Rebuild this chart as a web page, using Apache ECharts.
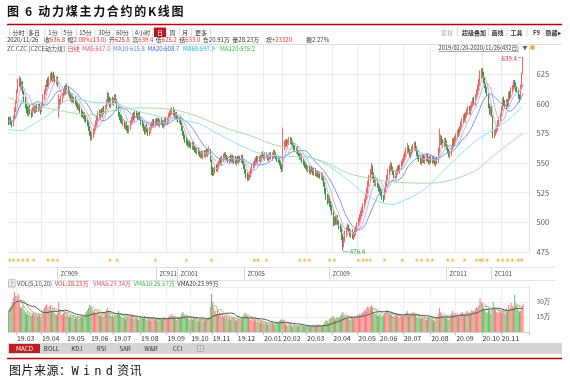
<!DOCTYPE html>
<html><head><meta charset="utf-8">
<script src="https://cdn.jsdelivr.net/npm/echarts@6/dist/echarts.min.js"></script>
<style>
html,body{margin:0;padding:0;background:#fff;}
#c{position:absolute;left:0;top:0;width:570px;height:382px;}
.t{position:absolute;white-space:pre;color:#111;font-family:"Noto Sans CJK SC";}
</style></head><body>
<div id="c"></div>
<div class="t" style="left:7px;top:2px;font-size:12px;font-weight:bold;letter-spacing:1.7px;line-height:18px">图 6 动力煤主力合约的K线图</div>
<div class="t" style="left:9px;top:361px;font-size:12px;letter-spacing:0.5px;line-height:18px">图片来源：<span style="font-family:'DejaVu Sans Mono';letter-spacing:4.2px">Wind</span>资讯</div>
<script>
const months = ['19.02','19.03','19.04','19.05','19.06','19.07','19.08','19.09','19.10','19.11','19.12','20.01','20.02','20.03','20.04','20.05','20.06','20.07','20.08','20.09','20.10','20.11'];
const monthDays = [7,21,21,20,19,23,22,20,18,21,22,16,20,22,21,18,20,23,21,22,16,19];

// daily [open, close, low, high]
const kData = [
[587,585,582,589],[584,587,583,589],[588,584,582,589],[584,582,580,586],[582,588,581,590],[589,595,587,597],[594,601,593,603],
[602,610,600,612],[611,618,609,621],[617,620,614,623],[621,615,613,622],[614,617,611,619],[618,610,608,619],[609,604,601,611],[605,598,596,606],[597,595,592,600],[596,592,590,598],[591,596,589,598],[597,593,591,599],[592,591,588,595],[590,595,589,597],[596,597,593,600],[598,594,592,599],[593,597,592,599],[598,595,593,600],[594,598,593,600],[599,596,594,600],[595,594,591,598],
[594,599,593,601],[600,606,598,608],[605,610,603,612],[611,614,608,616],[613,618,611,620],[619,616,614,622],[615,620,613,623],[621,623,618,626],[624,621,619,627],[620,624,618,626],[625,622,619,627],[621,620,617,624],[619,621,616,623],[622,617,614,623],[594,600,588,608],[599,601,596,604],[602,604,599,607],[603,607,601,609],[608,609,605,612],[610,612,607,615],[613,611,608,616],
[610,614,608,617],[613,610,607,615],[611,607,605,612],[608,604,602,609],[603,606,601,608],[607,603,601,608],[602,604,600,606],[605,601,599,606],[601,600,597,603],[601,597,595,602],[596,598,594,600],[599,594,592,600],[595,592,589,596],[593,590,588,594],[589,591,587,593],[592,588,585,593],[589,586,584,590],[587,584,581,588],[585,579,577,586],[580,576,573,581],
[576,572,569,577],[571,574,569,576],[573,577,571,579],[576,580,574,582],[579,584,577,586],[583,588,581,590],[587,592,585,594],[593,590,588,595],[589,593,587,595],[594,591,589,596],[590,595,588,597],[596,593,591,598],[592,597,590,599],[596,602,595,604],[603,607,600,610],[608,604,601,609],[605,599,597,606],[598,603,596,605],[604,601,599,606],
[600,603,598,605],[604,606,601,608],[607,602,600,608],[603,596,594,604],[597,591,589,598],[592,589,586,593],[588,587,584,591],[588,585,583,590],[583,584,581,587],[585,581,579,586],[580,583,578,585],[584,580,577,585],[581,578,575,582],[577,580,575,582],[579,584,578,586],[585,587,582,589],[586,590,584,592],[591,588,586,593],[587,592,585,594],[593,590,588,594],[590,589,586,592],[588,591,586,593],[592,588,586,593],
[587,585,582,589],[586,582,580,587],[583,579,577,584],[580,577,574,581],[576,580,574,582],[581,578,576,583],[579,576,573,580],[575,578,573,580],[577,581,575,583],[580,583,578,585],[582,585,580,587],[586,583,581,587],[582,585,580,587],[586,584,582,588],[583,586,581,588],[587,583,581,588],[582,585,580,587],[586,584,582,588],[585,582,580,586],[581,584,579,586],[583,586,581,588],[587,585,583,589],
[584,587,582,589],[586,590,584,592],[589,592,587,594],[591,594,589,596],[593,595,591,597],[596,593,590,597],[594,590,588,595],[589,591,587,593],[592,588,586,593],[589,586,584,590],[585,587,583,589],[588,584,582,589],[585,579,577,586],[580,575,573,581],[576,572,570,577],[573,570,567,574],[570,568,565,572],[569,566,564,570],[565,567,563,569],[568,565,563,569],
[566,564,562,568],[563,566,561,568],[567,563,561,568],[564,562,559,565],[563,560,558,564],[559,561,557,563],[562,559,557,563],[560,557,555,561],[556,558,554,560],[559,556,554,560],[555,558,553,560],[559,557,555,561],[556,559,554,561],[560,558,556,562],[557,560,555,562],[559,562,557,564],[561,553,551,562],[552,545,540,553],
[546,542,539,547],[541,544,539,546],[543,546,541,548],[547,545,543,549],[544,548,542,550],[547,550,545,552],[549,552,547,554],[553,551,549,555],[550,554,548,556],[553,556,551,558],[555,557,553,559],[558,555,553,559],[556,554,552,557],[555,552,550,556],[551,554,549,556],[555,553,551,557],[552,555,550,557],[556,552,550,557],[551,554,549,556],[555,551,549,556],[550,553,548,555],
[554,552,550,556],[551,554,549,556],[555,553,551,556],[552,555,550,557],[556,551,549,557],[552,547,545,553],[548,543,541,549],[544,540,537,545],[541,538,535,542],[537,539,535,541],[538,541,536,543],[540,544,538,546],[543,547,541,549],[548,549,545,551],[548,551,546,553],[550,553,548,555],[554,552,550,556],[551,554,549,556],[555,553,551,556],[552,555,550,557],[554,557,552,559],[558,556,554,560],
[557,555,553,558],[554,557,552,559],[558,556,554,559],[555,554,552,557],[553,556,551,558],[555,557,553,559],[558,555,553,559],[554,557,552,559],[556,559,554,561],[560,557,555,561],[558,555,553,559],[556,553,551,557],[554,552,550,555],[553,550,548,554],[551,547,545,552],[548,545,542,549],
[546,564,543,580],[563,566,561,569],[565,568,563,570],[569,566,564,570],[565,568,563,570],[567,570,565,572],[571,569,566,572],[570,567,565,571],[568,565,563,569],[566,563,561,567],[564,561,559,565],[560,562,558,564],[563,559,557,564],[560,557,555,561],[558,555,553,559],[554,556,552,558],[557,552,550,558],[553,550,548,554],[551,548,546,552],[549,547,545,550],
[548,545,543,549],[544,546,542,548],[547,543,541,548],[542,545,540,547],[546,544,542,547],[545,542,540,546],[541,544,539,546],[545,541,539,546],[540,542,538,544],[543,540,538,544],[539,541,537,543],[542,539,537,543],[538,540,536,542],[541,537,535,542],[538,532,530,539],[533,527,524,534],[528,522,519,529],[523,519,515,524],[518,521,516,524],[522,516,513,523],[517,513,510,518],[514,510,506,515],
[509,500,497,510],[499,503,497,505],[504,501,498,506],[500,504,498,506],[505,500,498,506],[501,497,494,502],[498,495,492,499],[496,488,485,497],[489,480,476.4,490],[481,486,479,488],[485,491,483,493],[490,494,488,496],[495,496,492,499],[497,493,491,498],[494,490,488,495],[489,492,487,494],[493,488,486,494],[487,490,485,492],[489,492,487,494],[491,495,489,497],[494,498,492,500],
[499,502,497,504],[503,505,500,507],[504,508,502,510],[507,511,505,513],[510,514,508,516],[513,518,511,520],[517,522,515,524],[521,527,519,529],[526,533,524,535],[532,538,530,540],[537,543,535,545],[542,547,540,550],[546,539,537,548],[540,536,533,542],[537,533,531,538],[532,535,530,537],[536,531,529,537],[532,529,526,533],
[530,527,524,531],[528,524,522,529],[525,522,519,526],[522,520,517,523],[520,526,519,528],[525,532,524,534],[531,538,530,540],[537,543,535,545],[542,546,540,548],[545,548,543,551],[549,545,543,550],[546,542,540,547],[543,539,537,544],[538,540,536,542],[539,543,537,545],[542,546,540,548],[547,544,542,548],[543,547,541,549],[546,550,544,552],[549,552,547,554],
[551,555,549,557],[554,558,552,560],[557,561,555,563],[560,563,558,567],[564,560,558,565],[561,557,555,562],[556,559,554,561],[558,562,556,564],[561,564,559,566],[563,566,561,568],[567,562,560,568],[563,558,556,564],[559,555,553,560],[556,553,551,557],[554,551,549,555],[550,553,548,555],[552,555,550,557],[556,552,550,557],[551,554,549,556],[553,556,551,558],[557,553,551,558],[554,551,549,555],[550,554,548,556],
[555,552,550,556],[551,554,549,556],[555,552,550,556],[553,550,548,554],[549,553,547,555],[554,551,549,555],[551,560,550,563],[559,569,558,579],[568,571,565,574],[572,568,565,573],[569,566,563,570],[565,569,563,571],[570,567,564,571],[568,563,561,569],[564,560,558,565],[561,557,555,562],[556,558,554,560],[557,563,556,565],[562,569,561,571],[570,566,564,571],[565,571,564,573],
[570,573,568,575],[572,576,570,578],[577,575,572,579],[574,579,573,581],[578,583,577,585],[582,586,580,588],[585,589,583,591],[590,587,585,592],[586,591,584,593],[590,594,588,596],[593,596,591,598],[597,593,591,598],[592,597,590,599],[596,600,594,602],[599,603,597,605],[604,601,599,606],[600,606,598,608],[605,610,603,612],[609,614,607,616],[613,618,611,621],[617,625,615,628],[624,628,621,630],
[629,626,622,630],[625,620,617,627],[621,616,613,622],[615,612,609,617],[613,609,606,614],[608,598,596,609],[599,594,591,600],[593,596,590,598],[597,591,589,598],[589,574,571,590],[573,576,571,578],[575,578,573,580],[577,580,575,582],[579,584,577,586],[583,587,581,589],[586,590,584,592],
[591,596,589,598],[595,603,594,605],[604,601,598,606],[602,598,596,603],[597,602,595,604],[603,600,597,604],[599,608,598,610],[609,606,603,611],[605,612,604,614],[611,614,609,616],[613,618,611,620],[619,616,613,620],[617,613,610,618],[614,612,609,615],[611,607,604,612],[606,603.2,601,608],[604,614.2,603,616],[613,623.8,612,626],[625.8,636.8,625.2,639.4]
];

// daily volume, 万手
const volumes = [
20,24,26,30,34,40,36,
33,38,30,25,24,27,22,20,18,21,17,19,16,18,20,17,19,16,18,17,15,
17,22,24,26,28,22,25,27,21,24,20,18,17,19,30,22,18,17,19,20,16,
18,16,15,17,14,16,13,15,14,16,13,15,17,14,16,18,20,22,24,27,
26,23,20,22,19,18,21,17,16,18,15,17,19,22,24,20,18,16,17,
15,17,16,19,21,18,16,15,14,16,13,15,17,14,16,18,15,13,14,16,13,12,14,
13,15,14,16,13,12,15,14,11,13,15,12,14,13,11,12,14,13,12,15,13,12,
14,15,17,16,18,14,15,13,12,14,13,15,18,20,17,16,14,15,13,12,
13,12,14,15,13,12,11,13,12,14,11,13,12,14,13,15,25,38,
30,24,20,18,21,17,19,16,18,15,17,14,16,13,15,12,14,13,15,12,11,
12,13,11,14,15,17,19,18,16,14,13,12,14,11,13,12,10,11,9,10,11,9,
8,9,10,8,7,9,8,10,9,7,8,9,10,11,12,13,
12,9,8,7,6,7,8,6,5,7,6,5,6,7,5,6,7,6,5,6,
6,5,7,6,5,6,7,5,6,8,7,6,5,7,8,10,12,11,9,13,14,15,
16,13,12,14,15,13,16,18,20,17,15,14,16,13,12,14,15,13,16,15,17,
16,18,17,19,20,22,21,24,26,23,25,27,24,20,18,19,17,16,
18,16,15,17,19,21,22,20,18,17,19,16,15,17,18,16,14,15,17,16,
15,17,19,21,18,16,17,18,20,19,17,15,14,16,13,15,14,13,15,12,14,16,15,
13,14,12,11,14,12,18,24,20,17,15,16,14,15,13,12,14,18,21,17,19,
16,18,15,17,19,20,18,16,19,21,20,17,19,22,21,18,23,25,24,27,34,30,
28,24,22,20,19,24,21,18,20,30,25,22,20,19,21,20,
19,23,21,18,24,20,27,23,29,26,24,37,27,25,22,20.5,21,25,28.23
];

// MA60 / MA120: [day index, value]
const ma60Pts = [[0,578.3],[10,577.3],[18,581],[26,586],[35,591.8],[43,598.8],[49,603],[60,603.6],[68,601.6],[77,600.8],[91,599.7],[104,595],[127,589],[144,586.5],[160,583],[171,577],[194,565],[211,558],[227,556],[255,554],[269,547],[284,536],[297,525],[311,517],[322,515],[330,518],[339,522],[351,530],[364,543],[376,555],[392,569],[403,576],[417,585],[431,597.9]];
const ma120Pts = [[0,605],[20,599],[49,593],[68,590.5],[91,595],[110,596.5],[138,595],[158,589.5],[171,584],[186,578],[200,574],[219,566.5],[238,561],[255,554],[267,550],[284,541.5],[303,537],[322,534],[351,533],[364,534],[378,538],[392,544],[406,556],[420,567],[431,575.2]];

const priceTicks = [475,500,525,550,575,600,625];
const volTicks = [15,30];
const starDays = [1,4,8,12,16,21,33,37,41,85,91,123,149,170,206,209,216,244,248,252,269,273,293,297,300,303,315,330,342,346,351,355,368,372,382,392,395,397,401,410,414,418,422,427,430];
const contracts = ['ZC909','ZC911','ZC001','ZC005','ZC009','ZC011','ZC101'];
const contractStart = [41,124,142,198,269,367,405];

const toolsLeft = ['分时','多日','1分','5分','15分','30分','60分','4小时','日','周','月','更多'];
const toolsRight = ['复权','超级叠加','画线','工具','F9','隐藏▸'];
const R_ = '#e8312f', D_ = '#333';
// groups of [text, colour] segments
const infoRow = [[['2020/11/26',D_]],[['收',D_],['636.8',R_]],[['幅',D_],['2.08%(13.0)',R_]],[['开',D_],['625.8',R_]],[['高',D_],['639.4',R_]],[['低',D_],['625.2',R_]],[['结',D_],['633.0',R_]],[['仓20.91万',D_]],[['量28.23万',D_]],[['增',D_],['+23320',R_]],[['振2.27%',D_]]];
const legendRow = [[['ZC.CZC [CZCE动力煤]','#444']],[['日线',R_]],[['MA5:617.0','#e8506e']],[['MA10:615.8','#6c7fd4']],[['MA20:608.7','#3d66e3']],[['MA60:597.9','#21b4de']],[['MA120:575.2','#35b54a']]];
const volLegend = [[['VOL(5,10,20)','#444']],[['VOL:28.23万',R_]],[['VMA5:23.34万','#e8506e']],[['VMA10:25.57万','#3cb54a']],[['VMA20:23.99万',D_]]];
const tabs = ['MACD','BOLL','KDJ','RSI','SAR','W&R','CCI'];
const dateRange = '2019/02/20-2020/11/26(432日)';

// ---- build ----
const cats = [];
months.forEach((m, i) => { for (let k = 0; k < monthDays[i]; k++) cats.push(k === 0 ? m : m + '#' + k); });
const axisCats = cats.concat(['#p1','#p2','#p3','#p4','#p5']);
const isMonthStart = (idx, val) => idx > 0 && String(val).indexOf('#') < 0;
const closes = kData.map(d => d[1]);
function sma(src, n) {
  const out = []; let s = 0;
  for (let i = 0; i < src.length; i++) {
    s += src[i]; if (i >= n) s -= src[i - n];
    out.push(+(s / Math.min(i + 1, n)).toFixed(2));
  }
  return out;
}
const UPV = '#f47a7a', DNV = '#62bf62';
const GL = 8, GW = 521.6;
const FONT = '"Noto Sans CJK SC","Noto Sans",sans-serif';
const FS = 6;

const chart = echarts.init(document.getElementById('c'), null, {renderer: 'canvas'});
const lineS = (name, data, color, xi, yi, smooth) => ({
  name, type: 'line', data, xAxisIndex: xi, yAxisIndex: yi, symbol: 'none', smooth: smooth || false,
  lineStyle: {width: 1, color}, silent: true, z: 3
});
const option = {
  animation: false,
  grid: [
    {left: GL, width: GW, top: 44.4, height: 207.6},
    {left: GL, width: GW, top: 257, height: 6},
    {left: GL, width: GW, top: 287, height: 45}
  ],
  xAxis: [
    {type: 'category', gridIndex: 0, data: axisCats, boundaryGap: true, axisLine: {show: false}, axisTick: {show: false}, axisLabel: {show: false},
     splitLine: {show: true, interval: isMonthStart, lineStyle: {color: '#ececec', width: 1}}},
    {type: 'category', gridIndex: 1, data: axisCats, show: false},
    {type: 'category', gridIndex: 2, data: axisCats, boundaryGap: true,
     axisLine: {lineStyle: {color: '#cfcfcf'}},
     axisTick: {show: true, interval: isMonthStart, length: 3, lineStyle: {color: '#bbb'}},
     axisLabel: {interval: isMonthStart, formatter: v => v.split('#')[0], align: 'left', color: '#333', fontSize: 7, fontFamily: FONT, margin: 3},
     splitLine: {show: true, interval: isMonthStart, lineStyle: {color: '#f0f0f0'}}}
  ],
  yAxis: [
    {type: 'value', gridIndex: 0, position: 'right', min: 475, max: 650, interval: 25,
     axisLine: {show: true, lineStyle: {color: '#e3e3e3'}}, axisTick: {show: false},
     axisLabel: {formatter: v => priceTicks.includes(v) ? String(v) : '', color: '#555', fontSize: 7.5, fontFamily: FONT, margin: 7},
     splitLine: {lineStyle: {color: '#ececec'}}},
    {type: 'value', gridIndex: 1, min: 0, max: 1, show: false},
    {type: 'value', gridIndex: 2, position: 'right', min: 0, max: 45, interval: 15,
     axisLine: {show: true, lineStyle: {color: '#e3e3e3'}}, axisTick: {show: false},
     axisLabel: {formatter: v => volTicks.includes(v) ? v + '万' : '', color: '#555', fontSize: 6.5, fontFamily: FONT, margin: 7},
     splitLine: {lineStyle: {color: '#ececec'}}}
  ],
  series: [
    {name: '日线', type: 'candlestick', data: kData, xAxisIndex: 0, yAxisIndex: 0, barWidth: 1, silent: true,
     itemStyle: {color: '#f7a3a3', color0: '#2f9f45', borderColor: '#f46464', borderColor0: '#2f9f45', borderWidth: 1}},
    lineS('MA5', sma(closes, 5), '#f3a3b2', 0, 0),
    lineS('MA10', sma(closes, 10), '#a9b9ef', 0, 0),
    lineS('MA20', sma(closes, 20), '#7a93ec', 0, 0),
    lineS('MA60', ma60Pts, '#93def0', 0, 0, 0.3),
    lineS('MA120', ma120Pts, '#a6dca6', 0, 0, 0.3),
    {name: 'mark', type: 'scatter', xAxisIndex: 1, yAxisIndex: 1, data: starDays.map(d => [d, 0.5]), silent: true,
     symbol: 'path://M50,0 L61,35 L98,35 L68,57 L79,91 L50,70 L21,91 L32,57 L2,35 L39,35 Z', symbolSize: 4.5,
     itemStyle: {color: '#f5a623'}},
    {name: 'VOL', type: 'bar', xAxisIndex: 2, yAxisIndex: 2, barWidth: 1, silent: true,
     data: volumes.map((v, i) => ({value: v, itemStyle: {color: kData[i][1] >= kData[i][0] ? UPV : DNV}}))},
    lineS('VMA5', sma(volumes, 5), '#f19aa6', 2, 2),
    lineS('VMA10', sma(volumes, 10), '#8ccf8c', 2, 2),
    lineS('VMA20', sma(volumes, 20), '#555555', 2, 2)
  ]
};
chart.setOption(option);

// ---- decorations ----
const G = [];
const mctx = document.createElement('canvas').getContext('2d');
const tw = (text, size, weight) => { mctx.font = (weight || 'normal') + ' ' + size + 'px ' + FONT; return mctx.measureText(text).width; };
function T(x, y, text, fill, size, align, weight) {
  G.push({type: 'text', x, y, silent: true, z: 100, style: {text, fill, fontSize: size || FS, fontFamily: FONT, fontWeight: weight || 'normal', align: align || 'left', verticalAlign: 'middle'}});
}
function L(x1, y1, x2, y2, stroke, w) {
  G.push({type: 'line', silent: true, z: 99, shape: {x1, y1, x2, y2}, style: {stroke, lineWidth: w || 1}});
}
function R(x, y, w, h, fill, stroke) {
  G.push({type: 'rect', silent: true, z: 98, shape: {x, y, width: w, height: h}, style: {fill, stroke: stroke || null, lineWidth: 1}});
}
// a row of groups: each group starts at its reference x, or just after the previous one
function row(groups, starts, y, size) {
  let end = -1e9;
  groups.forEach((g, i) => {
    let x = Math.max(starts[i], end + 2.5);
    g.forEach(seg => { T(x, y, seg[0], seg[1], size); x += tw(seg[0], size); });
    end = x;
  });
}
// top red rule
L(7, 24.5, 562, 24.5, '#c00000', 1.5);
// left toolbar
const tlX = [18.5, 34, 53, 68, 85.5, 104.5, 122.5, 142.5, 160, 172.5, 185, 201];
const tlSep = [9, 26.5, 44.5, 61, 76, 94.5, 113.5, 132, 152.5, 166.5, 179, 191, 210];
tlSep.forEach(x => L(x + 0.5, 28, x + 0.5, 36.5, '#dedede'));
R(154, 27.5, 12, 9.5, '#b8191f');
toolsLeft.forEach((t, i) => T(tlX[i], 32.3, t, t === '日' ? '#fff' : '#333', 6, 'center'));
// right toolbar
const trX = [447, 474, 497.5, 516.5, 536.5, 553];
[457, 488, 506.5, 526.5, 543.5].forEach(x => L(x + 0.5, 28, x + 0.5, 36.5, '#dedede'));
toolsRight.forEach((t, i) => T(trX[i], 32.3, t, i === 0 ? '#aaa' : '#333', 6, 'center', i === 0 ? 'normal' : 'bold'));
// info row
row(infoRow, [7, 44, 64, 103, 125, 147, 168, 190, 228, 266, 306], 40, FS);
L(7, 44.5, 562, 44.5, '#dddddd');
// legend row
row(legendRow, [7, 64, 77, 110, 146, 183, 220], 48.5, FS);
T(519, 48, dateRange, '#333', 5.7, 'right');
L(519 - tw(dateRange, 5.7), 51.5, 519, 51.5, '#777', 0.6);
T(525, 48, '▼', '#666', 5.5, 'center');
R(530.5, 45.5, 4, 4, '#f5a623');
// contract row
L(8, 267.5, 555, 267.5, '#e2e2e2');
L(8, 280.5, 555, 280.5, '#e2e2e2');
const px = d => chart.convertToPixel({gridIndex: 2}, [d, 0])[0];
const band = px(1) - px(0);
contractStart.forEach((d, i) => {
  const x = Math.round(px(d) - band / 2) + 0.5;
  L(x, 267.5, x, 280.5, '#d6d6d6');
  T(x + 3, 274.2, contracts[i], '#444', 6);
});
// volume legend
R(8.5, 279.8, 6.5, 7, '#f2f2f2', '#b5b5b5');
T(11.75, 283.5, '?', '#555', 5.8, 'center');
row(volLegend, [17, 54, 93, 130, 174], 283.5, FS);
// high / low labels
let hi = 0, lo = 0;
kData.forEach((d, i) => { if (d[3] > kData[hi][3]) hi = i; if (d[2] < kData[lo][2]) lo = i; });
const ph = chart.convertToPixel({gridIndex: 0}, [hi, kData[hi][3]]);
const pl = chart.convertToPixel({gridIndex: 0}, [lo, kData[lo][2]]);
L(ph[0] - 5, ph[1] + 0.5, ph[0] - 1, ph[1] + 0.5, '#8ea3d8', 0.8);
T(ph[0] - 6, ph[1] + 1.5, kData[hi][3].toFixed(1), R_, 6.2, 'right');
L(pl[0] + 0.5, pl[1], pl[0] + 0.5, pl[1] + 1.5, '#8ea3d8', 0.8);
L(pl[0] + 0.5, pl[1] + 1.5, pl[0] + 6, pl[1] + 1.5, '#8ea3d8', 0.8);
T(pl[0] + 7, pl[1] + 1, kData[lo][2].toFixed(1), '#2f9e44', 6.2, 'left');
// bottom tab bar
R(8, 343, 554, 11, '#d5d5d5');
R(9, 344, 31, 9, '#bd1f25');
const tabX = [24.5, 51.5, 77, 101.5, 125, 151, 177.5];
tabs.forEach((t, i) => T(tabX[i], 348.7, t, i === 0 ? '#fff' : '#333', 6.2, 'center'));
R(197.5, 345.5, 6, 6, '#e4e4e4', '#aaa');
L(200.5, 346, 200.5, 351, '#aaa', 0.6);
L(198, 348.5, 203, 348.5, '#aaa', 0.6);
// bottom red rule
L(7, 358.5, 562, 358.5, '#c00000', 1.5);

chart.setOption({graphic: G});
</script></body></html>
